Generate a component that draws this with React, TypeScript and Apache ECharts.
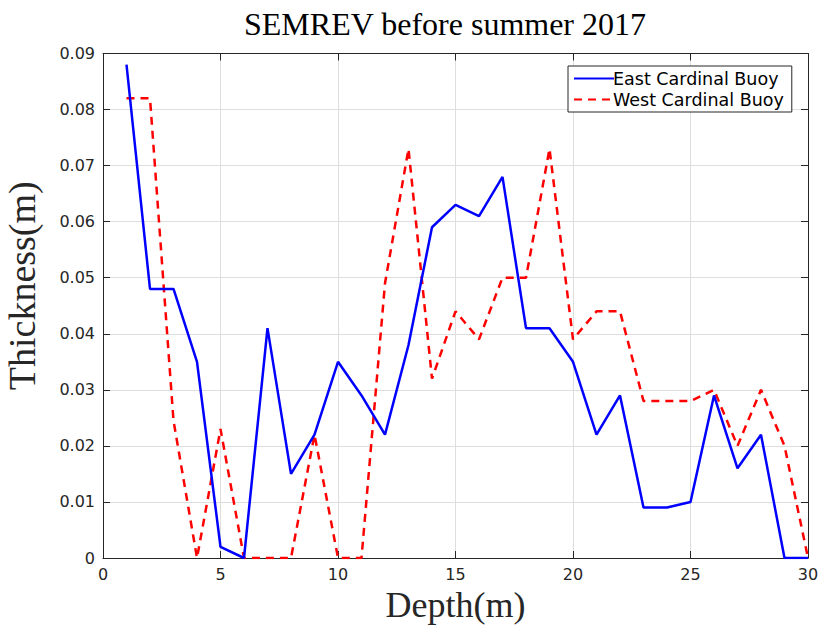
import React, { useEffect, useRef } from "react";
import * as echarts from "echarts";

const depths = [1,2,3,4,5,6,7,8,9,10,11,12,13,14,15,16,17,18,19,20,21,22,23,24,25,26,27,28,29,30];
const eastValues = [0.088,0.048,0.048,0.035,0.002,0,0.041,0.015,0.022,0.035,0.029,0.022,0.038,0.059,0.063,0.061,0.068,0.041,0.041,0.035,0.022,0.029,0.009,0.009,0.010,0.029,0.016,0.022,0,0];
const westValues = [0.082,0.082,0.0245,0,0.023,0,0,0,0.022,0,0,0.049,0.073,0.032,0.044,0.039,0.050,0.050,0.073,0.039,0.044,0.044,0.028,0.028,0.028,0.030,0.020,0.030,0.020,0];
const seriesNames = ["East Cardinal Buoy", "West Cardinal Buoy"];
const titleText = "SEMREV before summer 2017";
const xName = "Depth(m)";
const yName = "Thickness(m)";

export default function App() {
  const ref = useRef<HTMLDivElement>(null);
  useEffect(() => {
    if (!ref.current) return;
    const chart = echarts.init(ref.current, undefined, { renderer: "svg" });
    const axisColor = "#262626";
    const labelFont = { color: axisColor, fontSize: 16, fontFamily: "DejaVu Sans" };
    const tick = { show: true, inside: true, length: 7, lineStyle: { color: axisColor } };
    chart.setOption({
      animation: false,
      backgroundColor: "#ffffff",
      title: {
        text: titleText,
        left: 440,
        textAlign: "center",
        top: 3,
        textStyle: { fontFamily: "Liberation Serif", fontWeight: "normal", fontSize: 32, color: "#000" },
      },
      grid: { left: 103, right: 14, top: 53.5, bottom: 70, containLabel: false, outerBoundsMode: "none" },
      legend: {
        left: 568,
        top: 66,
        orient: "vertical",
        itemWidth: 40,
        itemHeight: 3,
        itemGap: 0,
        padding: [2, 8, 2, 5],
        borderColor: axisColor,
        borderWidth: 1,
        backgroundColor: "#fff",
        itemStyle: { opacity: 0 },
        textStyle: { fontFamily: "DejaVu Sans", fontSize: 17.5, lineHeight: 21, color: "#000", padding: [0, 0, 0, -6] },
        data: seriesNames,
      },
      xAxis: [
        {
          type: "value", min: 0, max: 30, interval: 5,
          name: xName, nameLocation: "middle", nameGap: 28,
          nameTextStyle: { fontFamily: "Liberation Serif", fontSize: 36, color: axisColor },
          axisLine: { show: true, onZero: false, lineStyle: { color: axisColor } },
          axisTick: tick,
          axisLabel: { ...labelFont, margin: 8 },
          splitLine: { show: true, lineStyle: { color: "#dedede" } },
        },
        {
          type: "value", min: 0, max: 30, interval: 5, position: "top",
          axisLine: { show: true, onZero: false, lineStyle: { color: axisColor } },
          axisTick: tick, axisLabel: { show: false }, splitLine: { show: false },
        },
      ],
      yAxis: [
        {
          type: "value", min: 0, max: 0.09, interval: 0.01,
          name: yName, nameLocation: "middle", nameGap: 62,
          nameTextStyle: { fontFamily: "Liberation Serif", fontSize: 38, color: axisColor, padding: [0, 0, 0, 40] },
          axisLine: { show: true, onZero: false, lineStyle: { color: axisColor } },
          axisTick: tick,
          axisLabel: { ...labelFont, margin: 8, formatter: (v: number) => (v === 0 ? "0" : v.toFixed(2)) },
          splitLine: { show: true, lineStyle: { color: "#dedede" } },
        },
        {
          type: "value", min: 0, max: 0.09, interval: 0.01, position: "right",
          axisLine: { show: true, onZero: false, lineStyle: { color: axisColor } },
          axisTick: tick, axisLabel: { show: false }, splitLine: { show: false },
        },
      ],
      series: [
        {
          name: seriesNames[0], type: "line", symbol: "none", showSymbol: false,
          data: depths.map((d, i) => [d, eastValues[i]]),
          lineStyle: { color: "#0000ff", width: 2.5 }, itemStyle: { color: "#0000ff" },
          z: 3,
        },
        {
          name: seriesNames[1], type: "line", symbol: "none", showSymbol: false,
          data: depths.map((d, i) => [d, westValues[i]]),
          lineStyle: { color: "#ff0000", width: 2.5, type: [8, 6] }, itemStyle: { color: "#ff0000" },
          z: 2,
        },
      ],
    });
    return () => chart.dispose();
  }, []);
  return <div ref={ref} style={{ width: 822, height: 628, position: "absolute", left: 0, top: 0 }} />;
}
